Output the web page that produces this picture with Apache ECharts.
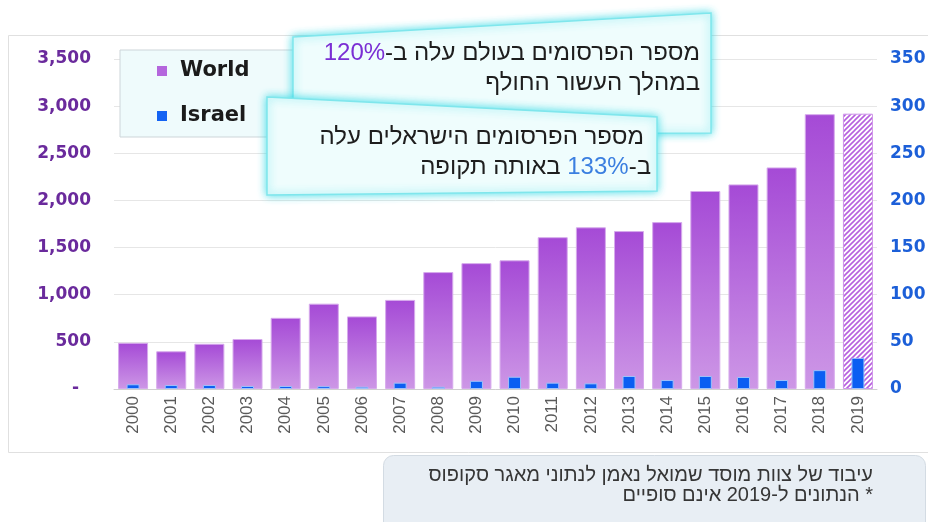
<!DOCTYPE html>
<html>
<head>
<meta charset="utf-8">
<script src="https://cdn.jsdelivr.net/npm/echarts@6/dist/echarts.min.js"></script>
<style>
  html, body { margin: 0; padding: 0; background: #ffffff; }
  #chart { width: 928px; height: 522px; }
</style>
</head>
<body>
<div id="chart"></div>
<script>
// Publications per year: world total (left axis) and Israel (right axis)
const years = ['2000', '2001', '2002', '2003', '2004', '2005', '2006', '2007', '2008', '2009',
               '2010', '2011', '2012', '2013', '2014', '2015', '2016', '2017', '2018', '2019'];
const worldPublications = [490, 400, 480, 530, 755, 905, 770, 945, 1240, 1335,
                           1365, 1610, 1715, 1675, 1770, 2100, 2170, 2350, 2915, 2920];
const israelPublications = [5, 4.2, 4.2, 3.2, 3.2, 3, 2.4, 6.7, 2.4, 8.7,
                            13, 6.7, 6, 13.8, 9.5, 13.8, 12.7, 9.5, 20, 33];
const leftTickLabels = ['-', '500', '1,000', '1,500', '2,000', '2,500', '3,000', '3,500'];
const rightTickLabels = ['0', '50', '100', '150', '200', '250', '300', '350'];
const preliminaryYear = '2019';

const HEB_FONT = "'Liberation Sans', 'DejaVu Sans', Arial, sans-serif";
const AXIS_FONT = "'DejaVu Sans', sans-serif";
const rtl = s => '\u200F' + s + '\u200F';

// Diagonal hatch used for the preliminary (incomplete) year
function makeHatch() {
  const s = 5;
  const c = document.createElement('canvas');
  c.width = s; c.height = s;
  const g = c.getContext('2d');
  g.fillStyle = '#ffffff';
  g.fillRect(0, 0, s, s);
  g.strokeStyle = '#b760de';
  g.lineWidth = 1.6;
  g.beginPath();
  g.moveTo(-1, s + 1); g.lineTo(s + 1, -1);
  g.moveTo(-1, 1); g.lineTo(1, -1);
  g.moveTo(s - 1, s + 1); g.lineTo(s + 1, s - 1);
  g.stroke();
  return c;
}
const hatch = makeHatch();

const worldGradient = new echarts.graphic.LinearGradient(0, 0, 0, 1, [
  { offset: 0, color: '#a54ad6' },
  { offset: 1, color: '#cd97e6' }
]);

const worldData = worldPublications.map((v, i) => years[i] === preliminaryYear
  ? { value: v, itemStyle: { color: { image: hatch, repeat: 'repeat' }, borderColor: '#cf95ea', borderWidth: 1 } }
  : v);

const chart = echarts.init(document.getElementById('chart'), null, { renderer: 'canvas' });

chart.setOption({
  animation: false,
  backgroundColor: '#ffffff',
  grid: { left: 114, right: 51, top: 59, bottom: 133, containLabel: false, outerBoundsMode: 'none' },
  legend: {
    orient: 'vertical',
    left: 120, top: 50,
    data: [
      { name: 'World', itemStyle: { color: '#b466dd', borderWidth: 0 } },
      { name: 'Israel', itemStyle: { color: '#1463f3', borderWidth: 0 } }
    ],
    icon: 'rect',
    itemWidth: 10, itemHeight: 10,
    itemGap: 21,
    padding: [9, 55, 9, 37],
    backgroundColor: '#effbfc',
    borderColor: '#cdd5d9',
    borderWidth: 1,
    selectedMode: false,
    textStyle: { fontFamily: AXIS_FONT, fontWeight: 'bold', fontSize: 21, color: '#1b1b1b', lineHeight: 24, padding: [0, 0, 0, 8] }
  },
  xAxis: [
    {
      type: 'category', data: years,
      axisLine: { lineStyle: { color: '#cfcfcf' } },
      axisTick: { show: false },
      axisLabel: { rotate: 90, margin: 7, fontSize: 17, color: '#5a5a5a', fontFamily: "'Liberation Sans', Arial, sans-serif" }
    },
    { type: 'category', data: years, show: false }
  ],
  yAxis: [
    {
      type: 'value', min: 0, max: 3500, interval: 500,
      axisLine: { show: false }, axisTick: { show: false },
      splitLine: { lineStyle: { color: '#e6e6e6' } },
      axisLabel: {
        margin: 23, fontSize: 17, fontWeight: 'bold', fontFamily: AXIS_FONT, color: '#6a2a9c',
        formatter: v => { const t = leftTickLabels[Math.round(v / 500)]; return v === 0 ? '{z|' + t + '}' : t; },
        rich: { z: { padding: [0, 12, 0, 0], fontSize: 17, fontWeight: 'bold', fontFamily: AXIS_FONT, color: '#6a2a9c' } }
      }
    },
    {
      type: 'value', min: 0, max: 350, interval: 50, position: 'right',
      axisLine: { show: false }, axisTick: { show: false },
      splitLine: { show: false },
      axisLabel: {
        margin: 13, fontSize: 17, fontWeight: 'bold', fontFamily: AXIS_FONT, color: '#1c5fd8',
        formatter: v => rightTickLabels[Math.round(v / 50)]
      }
    }
  ],
  series: [
    {
      name: 'World', type: 'bar', xAxisIndex: 0, yAxisIndex: 0,
      barWidth: 30,
      data: worldData,
      itemStyle: { color: worldGradient, borderColor: '#d6aaec', borderWidth: 1 }
    },
    {
      name: 'Israel', type: 'bar', xAxisIndex: 1, yAxisIndex: 1,
      barWidth: 13,
      data: israelPublications,
      z: 3,
      itemStyle: { color: '#0b5ef2', borderColor: '#9fc1fa', borderWidth: 1 }
    }
  ],
  graphic: [
    // outer frame
    { type: 'rect', z: 0, silent: true,
      shape: { x: 8.5, y: 35.5, width: 940, height: 417 },
      style: { fill: 'none', stroke: '#e0e0e0', lineWidth: 1 } },
    // callout: world growth
    { type: 'polygon', z: 20, silent: true,
      shape: { points: [[293, 37], [711, 13], [711, 133], [293, 135]] },
      style: { fill: '#effdfd', stroke: '#7fe6ec', lineWidth: 1.5, shadowBlur: 9, shadowColor: 'rgba(40,215,228,0.85)' } },
    { type: 'text', z: 21, silent: true,
      style: {
        x: 700, y: 53, align: 'right', verticalAlign: 'middle',
        text: '{p|120%}{d|' + rtl('מספר הפרסומים בעולם עלה ב-') + '}',
        rich: {
          p: { fontSize: 24, fontFamily: HEB_FONT, fill: '#7a2fd4' },
          d: { fontSize: 24, fontFamily: HEB_FONT, fill: '#1e1e1e' }
        }
      } },
    { type: 'text', z: 21, silent: true,
      style: { x: 700, y: 83, align: 'right', verticalAlign: 'middle',
        text: rtl('במהלך העשור החולף'), fontSize: 24, fontFamily: HEB_FONT, fill: '#1e1e1e' } },
    // callout: Israel growth
    { type: 'polygon', z: 22, silent: true,
      shape: { points: [[267, 97], [657, 117], [657, 191], [267, 195]] },
      style: { fill: '#effdfd', stroke: '#7fe6ec', lineWidth: 1.5, shadowBlur: 9, shadowColor: 'rgba(40,215,228,0.85)' } },
    { type: 'text', z: 23, silent: true,
      style: { x: 644, y: 137, align: 'right', verticalAlign: 'middle',
        text: rtl('מספר הפרסומים הישראלים עלה'), fontSize: 24, fontFamily: HEB_FONT, fill: '#1e1e1e' } },
    { type: 'text', z: 23, silent: true,
      style: {
        x: 651, y: 167, align: 'right', verticalAlign: 'middle',
        text: '{d|' + rtl('באותה תקופה') + '}{d| }{b|133%}{d|' + rtl('ב-') + '}',
        rich: {
          b: { fontSize: 24, fontFamily: HEB_FONT, fill: '#3b7fe0' },
          d: { fontSize: 24, fontFamily: HEB_FONT, fill: '#1e1e1e' }
        }
      } },
    // source note
    { type: 'rect', z: 20, silent: true,
      shape: { x: 383.5, y: 455.5, width: 542, height: 80, r: 10 },
      style: { fill: '#e8eef4', stroke: '#d3dbe3', lineWidth: 1 } },
    { type: 'text', z: 21, silent: true,
      style: { x: 873, y: 475, align: 'right', verticalAlign: 'middle',
        text: rtl('עיבוד של צוות מוסד שמואל נאמן לנתוני מאגר סקופוס'), fontSize: 20, fontFamily: HEB_FONT, fill: '#363636' } },
    { type: 'text', z: 21, silent: true,
      style: { x: 873, y: 495, align: 'right', verticalAlign: 'middle',
        text: rtl('* הנתונים ל-2019 אינם סופיים'), fontSize: 20, fontFamily: HEB_FONT, fill: '#363636' } }
  ]
});
</script>
</body>
</html>
